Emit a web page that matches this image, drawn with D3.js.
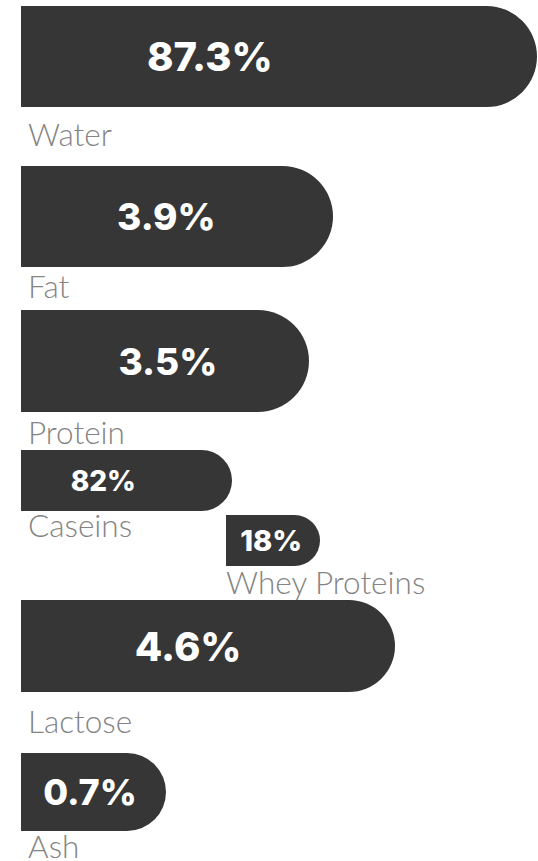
<!DOCTYPE html>
<html>
<head>
<meta charset="utf-8">
<script src="https://cdn.jsdelivr.net/npm/d3@7"></script>
<style>
  html, body { margin: 0; padding: 0; background: #fff; }
  svg { display: block; }
  .val { fill: #fff; font-family: Inter, 'Open Sans', sans-serif; font-weight: 800; }
  .lbl { fill: #848484; font-family: Lato, sans-serif; font-weight: 300; font-size: 31.5px; }
</style>
</head>
<body>
<div id="chart"></div>
<script>
// composition of milk (%)
const categories = ['Water', 'Fat', 'Protein', 'Lactose', 'Ash'];
const values = [87.3, 3.9, 3.5, 4.6, 0.7];
// split of the protein part (%)
const proteinParts = ['Caseins', 'Whey Proteins'];
const proteinShares = [82, 18];

const width = 538;
const height = 861;
const left = 21;
const bar = '#363636';

// bar lengths are not proportional in the original, so a piecewise scale
const xMain = d3.scaleLinear()
  .domain([0.7, 3.5, 3.9, 4.6, 87.3])
  .range([145, 288, 312, 374, 516]);
const xSub = d3.scaleLinear().domain([18, 82]).range([94, 211]);

// per-row layout
const rows = categories.concat(proteinParts);
const yTop = d3.scaleOrdinal().domain(rows).range([6, 166, 310, 600, 753, 450, 515]);
const barH = d3.scaleOrdinal().domain(rows).range([101, 101, 102, 92, 78, 61, 51]);
const gap = d3.scaleOrdinal().domain(rows).range([39, 31, 32, 41, 27, 26, 28]);
const x0 = d3.scaleOrdinal().domain(rows).range([left, left, left, left, left, left, 226]);
const fontSize = d3.scaleOrdinal().domain(rows).range([40, 37, 37, 40, 36, 28, 29]);
const valPos = d3.scaleOrdinal().domain(rows).range([0.366, 0.466, 0.51, 0.447, 0.476, 0.39, 0.48]);

const svg = d3.select('#chart').append('svg')
  .attr('width', width)
  .attr('height', height);

function pill(x, y, w, h) {
  const r = h / 2;
  const p = d3.path();
  p.moveTo(x, y);
  p.lineTo(x + w - r, y);
  p.arc(x + w - r, y + r, r, -Math.PI / 2, Math.PI / 2);
  p.lineTo(x, y + h);
  p.closePath();
  return p.toString();
}

const data = categories.map((c, i) => ({ name: c, value: values[i], w: xMain(values[i]) }))
  .concat(proteinParts.map((c, i) => ({ name: c, value: proteinShares[i], w: xSub(proteinShares[i]) })));

const g = svg.selectAll('g.row')
  .data(data)
  .enter()
  .append('g')
  .attr('class', 'row');

g.append('path')
  .attr('d', d => pill(x0(d.name), yTop(d.name), d.w, barH(d.name)))
  .attr('fill', bar);

g.append('text')
  .attr('class', 'val')
  .attr('text-anchor', 'middle')
  .attr('x', d => x0(d.name) + valPos(d.name) * d.w)
  .attr('y', d => yTop(d.name) + barH(d.name) / 2 + fontSize(d.name) * 0.37)
  .style('font-size', d => fontSize(d.name) + 'px')
  .text(d => d.value + '%');

g.append('text')
  .attr('class', 'lbl')
  .attr('x', d => x0(d.name) + (d.name === 'Whey Proteins' ? 0 : 7))
  .attr('y', d => yTop(d.name) + barH(d.name) + gap(d.name))
  .text(d => d.name);
</script>
</body>
</html>
